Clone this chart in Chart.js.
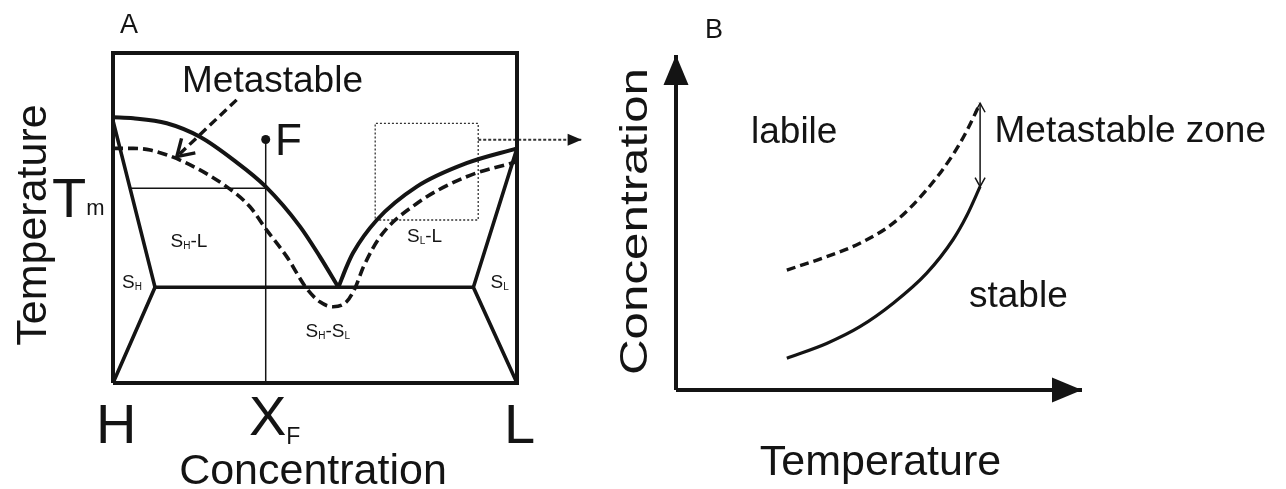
<!DOCTYPE html>
<html>
<head>
<meta charset="utf-8">
<script src="https://cdn.jsdelivr.net/npm/chart.js@4"></script>
<style>
  html, body { margin: 0; padding: 0; background: #fff; }
  body { position: relative; width: 1286px; height: 489px; overflow: hidden; }
  canvas { position: absolute; top: 0; }
  #phase { left: 0; }
  #zone { left: 600px; }
</style>
</head>
<body>
<canvas id="phase" width="600" height="489"></canvas>
<canvas id="zone" width="686" height="489"></canvas>
<script>
const FONT = '"Liberation Sans", Arial, sans-serif';
const INK = "#141414";

// ---- Panel A: binary phase diagram (x = composition H -> L, y = temperature) ----
const meltH = 80.5;          // pure H melting point
const meltL = 71.1;          // pure L melting point
const eutecticX = 55.8;
const eutecticT = 29;
const xF = 37.8;             // feed composition
const tF = 73.8;             // feed temperature
const tM = 59;               // liquidus temperature at xF
const solidusHx = 10.4;
const solidusLx = 89.2;

const liquidusH = [[0, meltH], [5, 80.2], [13.3, 78.7], [21.5, 74.6], [29.8, 67.6], [xF, 59.5], [46.3, 47.4], [51.2, 38.3], [eutecticX, eutecticT]];
const liquidusL = [[eutecticX, eutecticT], [57.8, 35.2], [59.4, 39.4], [65.3, 49.4], [75.2, 59.5], [87.5, 66.6], [100, meltL]];
const metastableLimit = [[0, 71.1], [5, 71.1], [9.2, 70.6], [17.4, 67.1], [28.1, 59.5], [33.9, 53.4], [38, 46.4], [43, 38.3], [47.9, 28.7], [51.2, 24.6], [54.5, 23.1], [57.8, 24.6], [59.9, 28.7], [62, 35.2], [66.1, 44.3], [75.2, 54.4], [87.5, 62.5], [100, 67.1]];
const zoomBox = [[64.9, 49.4], [90.4, 49.4], [90.4, 78.7], [64.9, 78.7], [64.9, 49.4]];
const zoomPointer = [[90.4, 73.7], [116, 73.7]];
const metastablePointer = [[30.6, 85.8], [15.8, 68.6]];

// ---- Panel B: solubility / metastable zone (x = temperature, y = concentration) ----
const temps = [27.3, 37.1, 45.3, 53.5, 61.7, 68.3, 71.6, 74.9];
const solubility = [9.5, 13.9, 18.9, 25.9, 34.8, 45, 52, 60.7];
const supersolubility = [35.8, 39.8, 43.8, 49.8, 59.7, 70.4, 77.3, 85.6];

const pts = arr => arr.map(([x, y]) => ({ x, y }));
const zip = (xs, ys) => xs.map((x, i) => ({ x, y: ys[i] }));

function line(data, extra) {
  return Object.assign({
    data,
    borderColor: INK,
    borderWidth: 4,
    pointRadius: 0,
    fill: false,
    clip: false,
    borderJoinStyle: "miter"
  }, extra || {});
}

// arrow heads at the ends of flagged datasets
const arrowPlugin = {
  id: "arrows",
  afterDatasetsDraw(chart) {
    const ctx = chart.ctx;
    chart.data.datasets.forEach((ds, i) => {
      if (!ds.head) return;
      const el = chart.getDatasetMeta(i).data;
      const ends = [[el[el.length - 1], el[el.length - 2]]];
      if (ds.head.both) ends.push([el[0], el[1]]);
      ends.forEach(([tip, from]) => {
        const a = Math.atan2(tip.y - from.y, tip.x - from.x);
        const h = ds.head;
        ctx.save();
        ctx.translate(tip.x, tip.y);
        ctx.rotate(a);
        ctx.beginPath();
        ctx.moveTo(-h.len, -h.half);
        ctx.lineTo(0, 0);
        ctx.lineTo(-h.len, h.half);
        if (h.filled) {
          ctx.closePath();
          ctx.fillStyle = INK;
          ctx.fill();
        } else {
          ctx.strokeStyle = INK;
          ctx.lineWidth = h.width;
          ctx.setLineDash([]);
          ctx.stroke();
        }
        ctx.restore();
      });
    });
  }
};

// labels with sub-scripts, placed in page pixels
function textPlugin(items, offsetX) {
  return {
    id: "texts",
    afterDraw(chart) {
      const ctx = chart.ctx;
      items.forEach(item => {
        ctx.save();
        ctx.translate(item.x - offsetX, item.y);
        if (item.rotate) ctx.rotate(item.rotate);
        ctx.fillStyle = INK;
        ctx.textBaseline = "alphabetic";
        let total = 0;
        const parts = item.parts.map(p => {
          ctx.font = `${p.size}px ${FONT}`;
          const w = ctx.measureText(p.t).width;
          total += w;
          return Object.assign({ w }, p);
        });
        if (item.length) ctx.scale(item.length / total, 1);
        let x = item.center ? -total / 2 : 0;
        parts.forEach(p => {
          ctx.font = `${p.size}px ${FONT}`;
          ctx.fillText(p.t, x, p.dy || 0);
          x += p.w;
        });
        ctx.restore();
      });
    }
  };
}

const T = (t, size, dy) => ({ t, size, dy });
const SUB = 10;

const phaseTexts = [
  { x: 120, y: 33, parts: [T("A", 27)] },
  { x: 182, y: 92, parts: [T("Metastable", 37)] },
  { x: 275, y: 155, parts: [T("F", 44)] },
  { x: 52, y: 217, parts: [T("T", 56), T("m", 22, -2)] },
  { x: 46, y: 225, rotate: -Math.PI / 2, center: true, parts: [T("Temperature", 43)] },
  { x: 96, y: 443, parts: [T("H", 56)] },
  { x: 249, y: 435, parts: [T("X", 56), T("F", 23, 9)] },
  { x: 504, y: 443, parts: [T("L", 56)] },
  { x: 313, y: 484, center: true, parts: [T("Concentration", 43)] },
  { x: 170.5, y: 247, parts: [T("S", 19), T("H", SUB, 2), T("-L", 19)] },
  { x: 407, y: 242, parts: [T("S", 19), T("L", SUB, 2), T("-L", 19)] },
  { x: 122, y: 288, parts: [T("S", 19), T("H", SUB, 2)] },
  { x: 490.5, y: 288, parts: [T("S", 19), T("L", SUB, 2)] },
  { x: 305.5, y: 337, parts: [T("S", 19), T("H", SUB, 2), T("-S", 19), T("L", SUB, 2)] }
];

const zoneTexts = [
  { x: 705, y: 38, parts: [T("B", 27)] },
  { x: 751, y: 143, parts: [T("labile", 37)] },
  { x: 994.5, y: 142, parts: [T("Metastable zone", 37)] },
  { x: 969, y: 307, parts: [T("stable", 37)] },
  { x: 647, y: 221.5, rotate: -Math.PI / 2, center: true, length: 307, parts: [T("Concentration", 38)] },
  { x: 880.5, y: 475, center: true, parts: [T("Temperature", 43)] }
];

const hiddenScales = {
  x: { type: "linear", min: 0, max: 100, display: false },
  y: { type: "linear", min: 0, max: 100, display: false }
};

const baseOptions = (padding) => ({
  responsive: false,
  animation: false,
  layout: { padding },
  plugins: { legend: { display: false }, tooltip: { enabled: false } },
  scales: hiddenScales
});

new Chart(document.getElementById("phase"), {
  type: "line",
  data: {
    datasets: [
      // frame
      line(pts([[0, 0], [100, 0], [100, 100], [0, 100], [0, 0]]), { borderWidth: 4 }),
      // liquidus branches
      line(pts(liquidusH), { cubicInterpolationMode: "monotone" }),
      line(pts(liquidusL), { cubicInterpolationMode: "monotone" }),
      // metastable limit
      line(pts(metastableLimit), { cubicInterpolationMode: "monotone", borderDash: [10, 5], borderWidth: 3.6 }),
      // solidus / eutectic
      line(pts([[0, meltH - 1], [solidusHx, eutecticT], [0, 0]]), { borderWidth: 3.6 }),
      line(pts([[100, meltL], [solidusLx, eutecticT], [100, 0]]), { borderWidth: 3.6 }),
      line(pts([[solidusHx, eutecticT], [solidusLx, eutecticT]]), { borderWidth: 3.6 }),
      // Tm and feed composition
      line(pts([[4.2, tM], [xF, tM]]), { borderWidth: 1.5 }),
      line(pts([[xF, 0], [xF, tF]]), { borderWidth: 1.5 }),
      line(pts([[xF, tF]]), { showLine: false, pointRadius: 4.5, pointBackgroundColor: INK, pointBorderWidth: 0 }),
      // zoom window and pointer to panel B
      line(pts(zoomBox), { borderWidth: 1.3, borderDash: [2, 2], borderColor: "#333" }),
      line(pts(zoomPointer), { borderWidth: 2, borderDash: [3, 2], borderColor: "#333", head: { len: 14, half: 6, filled: true } }),
      // pointer to metastable curve
      line(pts(metastablePointer), { borderWidth: 3.4, borderDash: [9, 5], head: { len: 16, half: 10, width: 3.4 } })
    ]
  },
  options: baseOptions({ left: 113, right: 83, top: 53, bottom: 106 }),
  plugins: [arrowPlugin, textPlugin(phaseTexts, 0)]
});

new Chart(document.getElementById("zone"), {
  type: "line",
  data: {
    datasets: [
      // axes
      line(pts([[0, 0], [0, 100]]), { borderWidth: 4, head: { len: 30, half: 12.5, filled: true } }),
      line(pts([[0, 0], [100, 0]]), { borderWidth: 4, head: { len: 30, half: 12.5, filled: true } }),
      // solubility and supersolubility curves
      line(zip(temps, solubility), { cubicInterpolationMode: "monotone", borderWidth: 3.2 }),
      line(zip(temps, supersolubility), { cubicInterpolationMode: "monotone", borderWidth: 3.4, borderDash: [9, 5] }),
      // width of the metastable zone
      line(pts([[temps[temps.length - 1], solubility[solubility.length - 1]], [temps[temps.length - 1], supersolubility[supersolubility.length - 1]]]),
        { borderWidth: 1.5, head: { len: 9, half: 5, width: 1.5, both: true } })
    ]
  },
  options: baseOptions({ left: 76, right: 204, top: 55, bottom: 99 }),
  plugins: [arrowPlugin, textPlugin(zoneTexts, 600)]
});
</script>
</body>
</html>
